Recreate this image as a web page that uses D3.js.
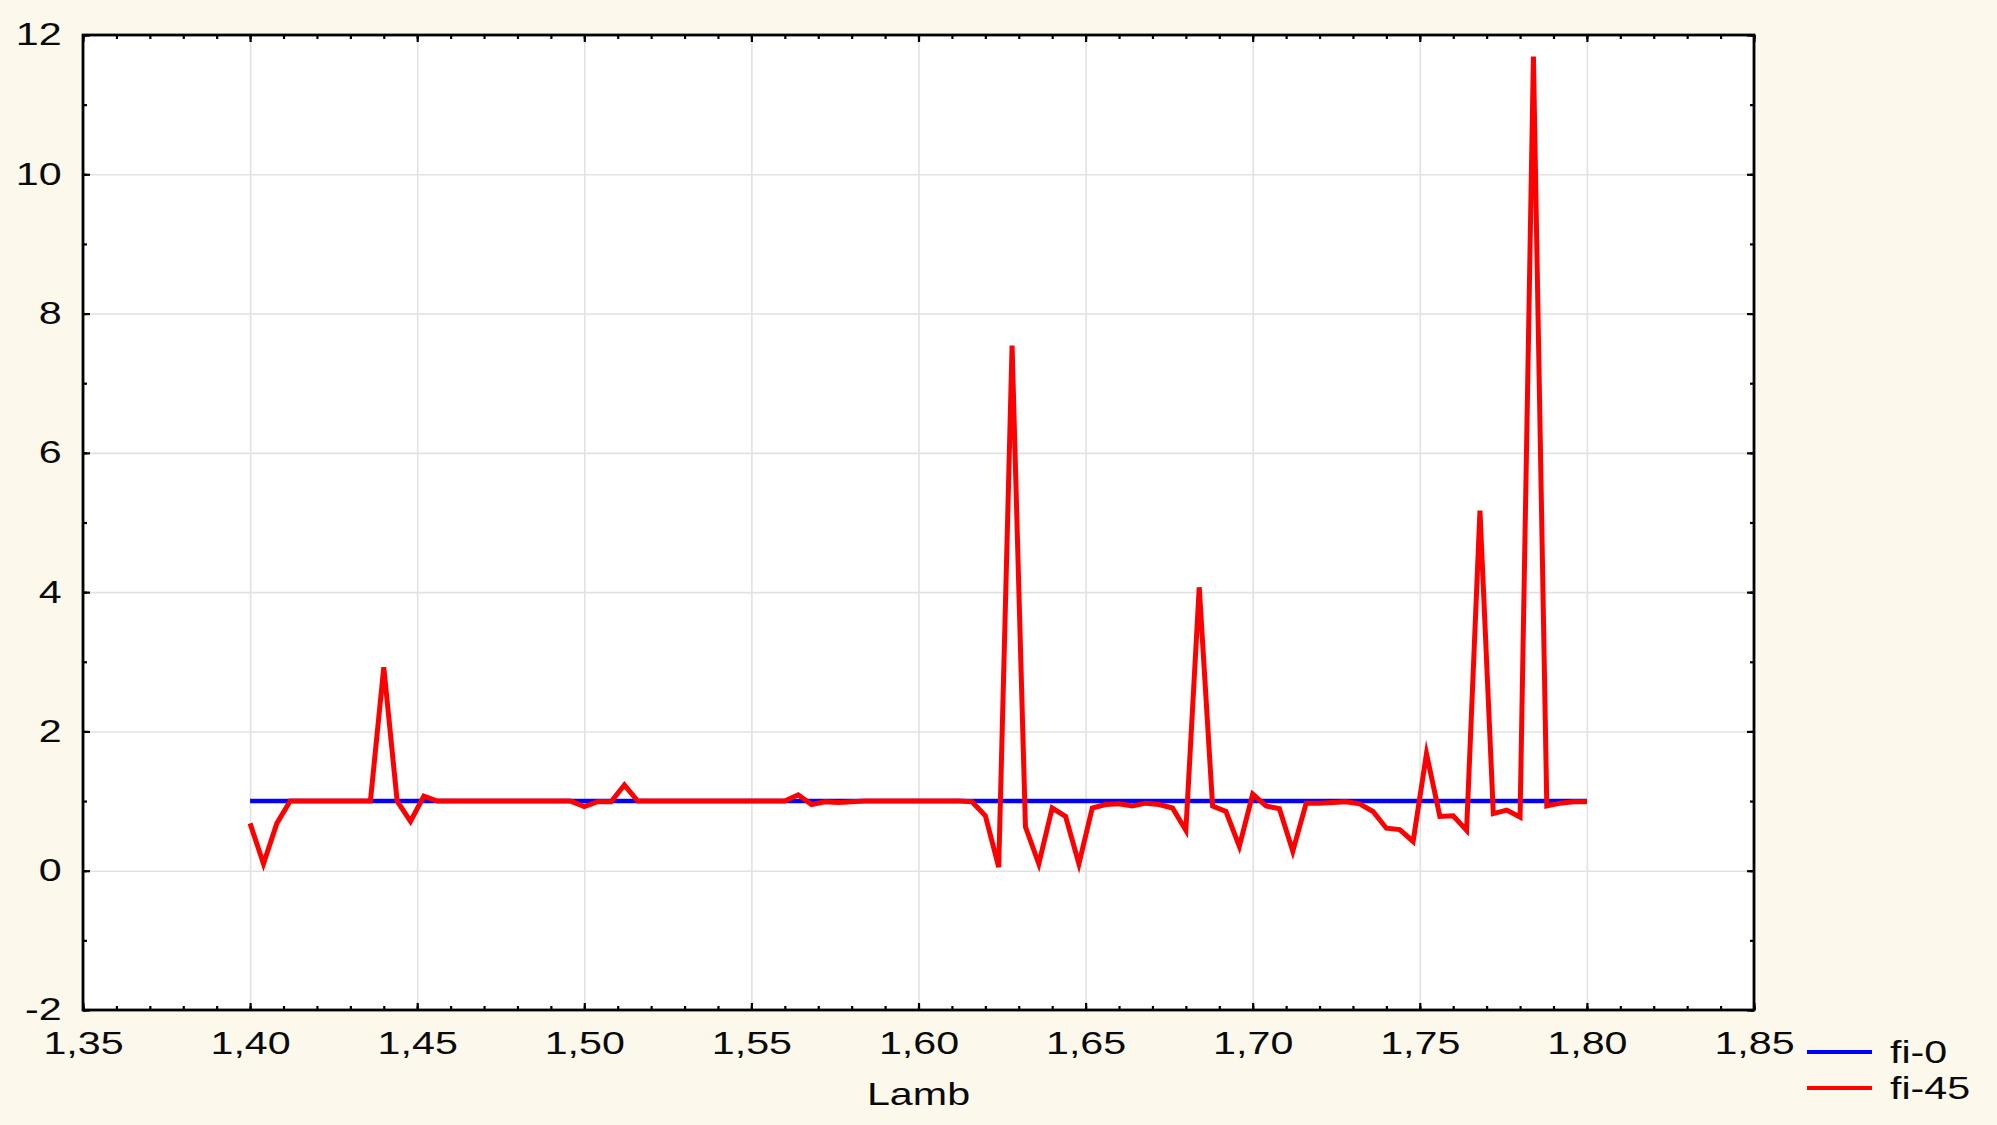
<!DOCTYPE html>
<html>
<head>
<meta charset="utf-8">
<script src="https://cdn.jsdelivr.net/npm/d3@7"></script>
<style>
  html, body { margin: 0; padding: 0; background: #fdf8ec; }
  text { font-family: "Liberation Sans", Arial, sans-serif; fill: #0a0a0a; }
</style>
</head>
<body>
<div id="chart"></div>
<script>
// Lamb sampling grid (x values): step 0.004 from 1.40 to 1.80
var lamb = [
  1.400, 1.404, 1.408, 1.412, 1.416, 1.420, 1.424, 1.428, 1.432, 1.436,
  1.440, 1.444, 1.448, 1.452, 1.456, 1.460, 1.464, 1.468, 1.472, 1.476,
  1.480, 1.484, 1.488, 1.492, 1.496, 1.500, 1.504, 1.508, 1.512, 1.516,
  1.520, 1.524, 1.528, 1.532, 1.536, 1.540, 1.544, 1.548, 1.552, 1.556,
  1.560, 1.564, 1.568, 1.572, 1.576, 1.580, 1.584, 1.588, 1.592, 1.596,
  1.600, 1.604, 1.608, 1.612, 1.616, 1.620, 1.624, 1.628, 1.632, 1.636,
  1.640, 1.644, 1.648, 1.652, 1.656, 1.660, 1.664, 1.668, 1.672, 1.676,
  1.680, 1.684, 1.688, 1.692, 1.696, 1.700, 1.704, 1.708, 1.712, 1.716,
  1.720, 1.724, 1.728, 1.732, 1.736, 1.740, 1.744, 1.748, 1.752, 1.756,
  1.760, 1.764, 1.768, 1.772, 1.776, 1.780, 1.784, 1.788, 1.792, 1.796,
  1.800
];

// fi-0 series (flat at 1)
var fi0 = [
  1, 1, 1, 1, 1, 1, 1, 1, 1, 1,
  1, 1, 1, 1, 1, 1, 1, 1, 1, 1,
  1, 1, 1, 1, 1, 1, 1, 1, 1, 1,
  1, 1, 1, 1, 1, 1, 1, 1, 1, 1,
  1, 1, 1, 1, 1, 1, 1, 1, 1, 1,
  1, 1, 1, 1, 1, 1, 1, 1, 1, 1,
  1, 1, 1, 1, 1, 1, 1, 1, 1, 1,
  1, 1, 1, 1, 1, 1, 1, 1, 1, 1,
  1, 1, 1, 1, 1, 1, 1, 1, 1, 1,
  1, 1, 1, 1, 1, 1, 1, 1, 1, 1,
  1
];

// fi-45 series
var fi45 = [
  0.68, 0.10, 0.68, 1.00, 1.00, 1.00, 1.00, 1.00, 1.00, 1.00,
  2.92, 1.00, 0.71, 1.07, 1.00, 1.00, 1.00, 1.00, 1.00, 1.00,
  1.00, 1.00, 1.00, 1.00, 1.00, 0.92, 0.99, 0.99, 1.23, 1.00,
  1.00, 1.00, 1.00, 1.00, 1.00, 1.00, 1.00, 1.00, 1.00, 1.00,
  1.00, 1.09, 0.95, 0.99, 0.98, 0.99, 1.00, 1.00, 1.00, 1.00,
  1.00, 1.00, 1.00, 1.00, 0.99, 0.79, 0.05, 7.54, 0.63, 0.10,
  0.90, 0.78, 0.10, 0.90, 0.95, 0.96, 0.93, 0.97, 0.95, 0.90,
  0.58, 4.07, 0.93, 0.85, 0.35, 1.10, 0.93, 0.89, 0.28, 0.97,
  0.97, 0.98, 0.99, 0.96, 0.85, 0.61, 0.59, 0.42, 1.68, 0.78,
  0.79, 0.58, 5.17, 0.82, 0.87, 0.77, 11.69, 0.93, 0.97, 0.99,
  0.99
];

var xMajor = [1.35, 1.40, 1.45, 1.50, 1.55, 1.60, 1.65, 1.70, 1.75, 1.80, 1.85];
var yMajor = [-2, 0, 2, 4, 6, 8, 10, 12];
var seriesNames = ["fi-0", "fi-45"];
var seriesColors = ["#0000ff", "#ff0000"];

(function() {

  var W = 1997, H = 1125;
  var margin = { top: 35, left: 83, right: 243, bottom: 115 };
  var width = W - margin.left - margin.right,
      height = H - margin.top - margin.bottom;

  // the picture is stretched sideways, so text gets a horizontal stretch too
  var stretch = 1.33;
  var fontSize = "31px";

  var svg = d3.select("#chart")
    .append("svg")
    .attr("width", W)
    .attr("height", H)
    .append("g")
    .attr("transform", "translate(" + margin.left + "," + margin.top + ")");

  var xScale = d3.scaleLinear().domain([1.35, 1.85]).range([0, width]);
  var yScale = d3.scaleLinear().domain([-2, 12]).range([height, 0]);

  var loc = d3.formatLocale({ decimal: ",", thousands: ".", grouping: [3], currency: ["", ""], minus: "-" });
  var fmtX = loc.format(".2f");
  var fmtY = loc.format("d");

  var xMinor = d3.range(1.35, 1.8501, 0.01);
  var yMinor = d3.range(-2, 12.01, 1);

  // white plot area
  svg.append("rect")
    .attr("width", width)
    .attr("height", height)
    .attr("fill", "#fff");

  // grid
  svg.append("g")
    .attr("class", "grid")
    .attr("transform", "translate(0," + height + ")")
    .call(d3.axisBottom(xScale).tickValues(xMajor).tickSize(-height).tickFormat(""));
  svg.append("g")
    .attr("class", "grid")
    .call(d3.axisLeft(yScale).tickValues(yMajor).tickSize(-width).tickFormat(""));
  svg.selectAll(".grid .domain").remove();
  svg.selectAll(".grid line").attr("stroke", "#e2e2e2").attr("stroke-width", 1.6);

  // lines
  var rows = lamb.map(function(d, i) { return { x: d, a: fi0[i], b: fi45[i] }; });

  var lineA = d3.line().x(function(d) { return xScale(d.x); }).y(function(d) { return yScale(d.a); });
  var lineB = d3.line().x(function(d) { return xScale(d.x); }).y(function(d) { return yScale(d.b); });

  svg.append("path")
    .datum(rows)
    .attr("d", lineA)
    .attr("fill", "none")
    .attr("stroke", seriesColors[0])
    .attr("stroke-width", 4.5);

  svg.append("path")
    .datum(rows)
    .attr("d", lineB)
    .attr("fill", "none")
    .attr("stroke", seriesColors[1])
    .attr("stroke-width", 5)
    .attr("stroke-linejoin", "miter")
    .attr("stroke-miterlimit", 6);

  // inward ticks on all four sides (minor first, then major)
  function ticks(axis, vals, size, tr) {
    var g = svg.append("g")
      .attr("class", "ticks")
      .attr("transform", tr)
      .call(axis.tickValues(vals).tickSize(size).tickFormat(""));
    g.select(".domain").remove();
    g.selectAll("line").attr("stroke", "#000").attr("stroke-width", 2.2);
  }
  ticks(d3.axisBottom(xScale), xMinor, -4, "translate(0," + height + ")");
  ticks(d3.axisBottom(xScale), xMajor, -7, "translate(0," + height + ")");
  ticks(d3.axisTop(xScale), xMinor, -4, "translate(0,0)");
  ticks(d3.axisTop(xScale), xMajor, -7, "translate(0,0)");
  ticks(d3.axisLeft(yScale), yMinor, -4, "translate(0,0)");
  ticks(d3.axisLeft(yScale), yMajor, -7, "translate(0,0)");
  ticks(d3.axisRight(yScale), yMinor, -4, "translate(" + width + ",0)");
  ticks(d3.axisRight(yScale), yMajor, -7, "translate(" + width + ",0)");

  // frame
  svg.append("rect")
    .attr("width", width)
    .attr("height", height)
    .attr("fill", "none")
    .attr("stroke", "#000")
    .attr("stroke-width", 2.8);

  // tick labels
  var xLab = svg.append("g")
    .attr("transform", "translate(0," + height + ")")
    .call(d3.axisBottom(xScale).tickValues(xMajor).tickSize(0).tickPadding(22).tickFormat(fmtX));
  var yLab = svg.append("g")
    .call(d3.axisLeft(yScale).tickValues(yMajor).tickSize(0).tickPadding(16).tickFormat(fmtY));
  [xLab, yLab].forEach(function(g) {
    g.select(".domain").remove();
    g.selectAll("text")
      .attr("fill", "#0a0a0a")
      .style("font-size", fontSize)
      .style("font-family", "'Liberation Sans', Arial, sans-serif")
      .attr("transform", "scale(" + stretch + ",1)");
  });

  // axis title
  svg.append("text")
    .attr("transform", "translate(" + (width / 2) + "," + (1105 - margin.top) + ") scale(" + stretch + ",1)")
    .attr("text-anchor", "middle")
    .style("font-size", fontSize)
    .text("Lamb");

  // legend
  var legend = svg.append("g")
    .attr("transform", "translate(" + (1807 - margin.left) + "," + (1052 - margin.top) + ")");

  seriesNames.forEach(function(name, i) {
    legend.append("line")
      .attr("x1", 0).attr("x2", 65)
      .attr("y1", i * 36).attr("y2", i * 36)
      .attr("stroke", seriesColors[i])
      .attr("stroke-width", 4);
    legend.append("text")
      .attr("transform", "translate(83," + (i * 36 + 11) + ") scale(" + stretch + ",1)")
      .style("font-size", fontSize)
      .text(name);
  });

})();
</script>
</body>
</html>
